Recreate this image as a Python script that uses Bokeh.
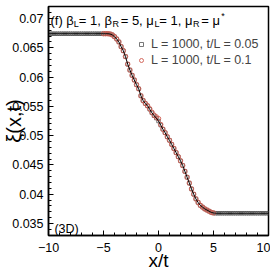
import math
from bokeh.plotting import figure
from bokeh.models import (Range1d, FixedTicker, CustomJSTickFormatter, Label, Legend, LegendItem)
from bokeh.embed import file_html
from bokeh.resources import INLINE

# ---------------- data ----------------
x_t005 = [-10.0, -9.8, -9.6, -9.4, -9.2, -9.0, -8.8, -8.6, -8.4, -8.2,
          -8.0, -7.8, -7.6, -7.4, -7.2, -7.0, -6.8, -6.6, -6.4, -6.2,
          -6.0, -5.8, -5.6, -5.4, -5.2, -5.0, -4.8, -4.6, -4.4, -4.2,
          -4.0, -3.8, -3.6, -3.4, -3.2, -3.0, -2.8, -2.6, -2.4, -2.2,
          -2.0, -1.8, -1.6, -1.4, -1.2, -1.0, -0.8, -0.6, -0.4, -0.2,
          0.0, 0.2, 0.4, 0.6, 0.8, 1.0, 1.2, 1.4, 1.6, 1.8,
          2.0, 2.2, 2.4, 2.6, 2.8, 3.0, 3.2, 3.4, 3.6, 3.8,
          4.0, 4.2, 4.4, 4.6, 4.8, 5.0, 5.2, 5.4, 5.6, 5.8,
          6.0, 6.2, 6.4, 6.6, 6.8, 7.0, 7.2, 7.4, 7.6, 7.8,
          8.0, 8.2, 8.4, 8.6, 8.8, 9.0, 9.2, 9.4, 9.6, 9.8, 10.0]
y_t005 = [0.0674, 0.0674, 0.0674, 0.0674, 0.0674, 0.0674, 0.0674, 0.0674, 0.0674, 0.0674,
          0.0674, 0.0674, 0.0674, 0.0674, 0.0674, 0.0674, 0.0674, 0.0674, 0.0674, 0.0674,
          0.0674, 0.0674, 0.0674, 0.0674, 0.0674, 0.0674, 0.0674, 0.0674, 0.06735, 0.0672,
          0.0669, 0.0665, 0.0660, 0.0652, 0.0645, 0.0635, 0.0622, 0.0612, 0.0603, 0.0595,
          0.0587, 0.0580, 0.0568, 0.0560, 0.0555, 0.0551, 0.0545, 0.0539, 0.0534, 0.0530,
          0.0525, 0.0518, 0.0511, 0.0505, 0.0498, 0.0492, 0.0485, 0.0478, 0.0471, 0.0464,
          0.0457, 0.0449, 0.0439, 0.0429, 0.0419, 0.0409, 0.0400, 0.0392, 0.0386, 0.0381,
          0.0378, 0.0375, 0.0373, 0.0371, 0.0369, 0.0368, 0.03675, 0.03675, 0.03675, 0.03675,
          0.03675, 0.03675, 0.03675, 0.03675, 0.03675, 0.03675, 0.03675, 0.03675, 0.03675, 0.03675,
          0.03675, 0.03675, 0.03675, 0.03675, 0.03675, 0.03675, 0.03675, 0.03675, 0.03675, 0.03675, 0.03675]

x_t01 = [-5.0, -4.8, -4.6, -4.4, -4.2, -4.0, -3.8, -3.6, -3.4, -3.2,
         -3.0, -2.8, -2.6, -2.4, -2.2, -2.0, -1.8, -1.6, -1.4, -1.2,
         -1.0, -0.8, -0.6, -0.4, -0.2, 0.0, 0.2, 0.4, 0.6, 0.8,
         1.0, 1.2, 1.4, 1.6, 1.8, 2.0, 2.2, 2.4, 2.6, 2.8,
         3.0, 3.2, 3.4, 3.6, 3.8, 4.0, 4.2, 4.4, 4.6, 4.8, 5.0]
y_t01 = [0.0674, 0.0674, 0.0674, 0.06735, 0.0672, 0.0669, 0.0665, 0.0660, 0.0652, 0.0645,
         0.0635, 0.0622, 0.0612, 0.0603, 0.0595, 0.0587, 0.0580, 0.0568, 0.0560, 0.0555,
         0.0551, 0.0546, 0.0540, 0.0535, 0.0532, 0.0529, 0.0519, 0.0511, 0.0505, 0.0498,
         0.0492, 0.0485, 0.0478, 0.0471, 0.0464, 0.0457, 0.0449, 0.0439, 0.0429, 0.0419,
         0.0409, 0.0400, 0.0392, 0.0386, 0.0381, 0.0378, 0.0375, 0.0373, 0.0371, 0.0369, 0.0368]

x_ticks = [-10, -5, 0, 5, 10]
y_ticks = [0.035, 0.04, 0.045, 0.05, 0.055, 0.06, 0.065, 0.07]
label_a = "L = 1000, t/L = 0.05"
label_b = "L = 1000, t/L = 0.1"

FONT = "Liberation Sans"
RED = "#cf5a4e"

X0, X1 = -10, 10
Y0, Y1 = 0.03295, 0.07205
W, H = 270, 274
BL, BR, BT, BB = 44, 2, 6, 39
FW = W - BL - BR
FH = H - BT - BB

p = figure(width=W, height=H, output_backend="svg", toolbar_location=None,
           x_range=Range1d(X0, X1), y_range=Range1d(Y0, Y1),
           min_border_left=BL, min_border_right=BR, min_border_top=BT, min_border_bottom=BB)
p.grid.visible = False
p.background_fill_color = "white"
p.border_fill_color = "white"
p.outline_line_color = "black"
p.outline_line_width = 1.5

for ax in (p.xaxis[0], p.yaxis[0]):
    ax.axis_line_width = 1.5
    ax.axis_line_color = "black"
    ax.major_tick_in = 5
    ax.major_tick_out = 0
    ax.minor_tick_in = 3
    ax.minor_tick_out = 0
    ax.major_tick_line_width = 1
    ax.minor_tick_line_width = 1
    ax.major_label_text_font = FONT
    ax.major_label_text_font_size = "12.5px"
    ax.major_label_text_color = "black"
    ax.axis_label_text_font = FONT
    ax.axis_label_text_font_style = "normal"
    ax.axis_label_text_color = "black"

p.xaxis.ticker = FixedTicker(ticks=x_ticks, minor_ticks=list(range(-10, 11)))
p.yaxis.ticker = FixedTicker(ticks=y_ticks, minor_ticks=[0.033 + 0.001 * i for i in range(40)])
p.yaxis.formatter = CustomJSTickFormatter(code="return tick.toFixed(3).replace(/0+$/, '');")
p.xaxis.major_label_standoff = 7
p.yaxis.major_label_standoff = 5

p.xaxis.axis_label = "x/t"
p.xaxis.axis_label_text_font_size = "19px"
p.xaxis.axis_label_standoff = -5
p.yaxis.axis_label = "\u03be(x,t)"
p.yaxis.axis_label_text_font_size = "20px"
p.yaxis.axis_label_standoff = -16

sq = p.scatter(x_t005, y_t005, marker="square", size=3.5, fill_color=None,
               line_color="#555555", line_width=0.8)
ci = p.scatter(x_t01, y_t01, marker="circle", size=4.5, fill_color=None,
               line_color=RED, line_width=0.9)
p.line(x_t005, y_t005, line_color="black", line_width=1)

legend = Legend(items=[LegendItem(label=label_a, renderers=[sq]),
                       LegendItem(label=label_b, renderers=[ci])],
                location=(88, 168), background_fill_alpha=0, border_line_alpha=0,
                padding=0, margin=0, spacing=2, glyph_width=10, glyph_height=14,
                label_height=14, label_standoff=5,
                label_text_font=FONT, label_text_font_size="12.5px")
p.add_layout(legend)


def dx(px):
    return X0 + (px - BL) / FW * (X1 - X0)


def dy(py):
    return Y1 - (py - BT) / FH * (Y1 - Y0)


def put(text, px, py, size):
    p.add_layout(Label(x=dx(px), y=dy(py), text=text, text_font=FONT,
                       text_font_size=size, text_color="black",
                       text_baseline="alphabetic", text_align="left"))


# title with sub/superscripts
pieces = [("(f) \u03b2", 13, 0), ("L", 9, 1), (" = 1, \u03b2", 13, 0), ("R", 9, 1),
          (" = 5, \u03bc", 13, 0), ("L", 9, 1), (" = 1, \u03bc", 13, 0), ("R", 9, 1),
          (" = \u03bc", 13, 0), ("*", 9, 2)]
widths = {"(f) \u03b2": 23.8, " = 1, \u03b2": 34.3, " = 5, \u03bc": 34.3, " = 1, \u03bc": 34.3,
          " = \u03bc": 20.5, "L": 5.0, "R": 8.4, "*": 4}
cx = 46
for txt, sz, kind in pieces:
    base = 20 if kind == 0 else (23 if kind == 1 else 15.5)
    put(txt, cx, base, f"{sz}px")
    cx += widths[txt]

put("(3D)", 50, 228, "12.5px")

open("out.html", "w").write(file_html(p, INLINE))
